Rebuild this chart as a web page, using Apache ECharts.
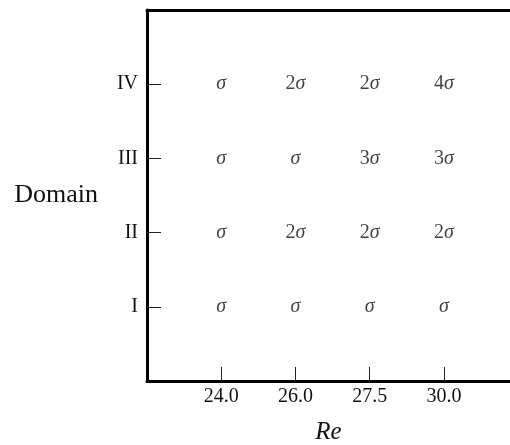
<!DOCTYPE html>
<html><head><meta charset="utf-8">
<script src="https://cdn.jsdelivr.net/npm/echarts@6/dist/echarts.min.js"></script>
<style>html,body{margin:0;padding:0;background:#fff}#c{width:510px;height:445px}</style>
</head><body><div id="c"></div>
<script>
const reLabels = ['24.0', '26.0', '27.5', '30.0'];
const domainLabels = ['I', 'II', 'III', 'IV'];
// multiples of sigma, per domain, for each Re
const domainI = [1, 1, 1, 1];
const domainII = [1, 2, 2, 2];
const domainIII = [1, 1, 3, 3];
const domainIV = [1, 2, 2, 4];
const rows = [domainI, domainII, domainIII, domainIV];

const data = [];
rows.forEach((row, yi) => row.forEach((m, xi) => data.push([xi + 1, yi + 1, m])));

const font = '"Liberation Serif", "DejaVu Serif", serif';
const col = '#111';
const chart = echarts.init(document.getElementById('c'));
chart.setOption({
  animation: false,
  grid: { left: 147, right: 0, top: 10, bottom: 64, containLabel: false, outerBoundsMode: 'none' },
  xAxis: [{
    type: 'value', min: 0, max: 4.89, interval: 1,
    splitLine: { show: false },
    axisLine: { show: true, onZero: false, lineStyle: { color: '#000', width: 3 } },
    axisTick: { show: true, inside: true, length: 14, customValues: [1, 2, 3, 4], lineStyle: { color: '#222', width: 1 } },
    axisLabel: { customValues: [1, 2, 3, 4], formatter: v => reLabels[v - 1] || '', color: col, fontFamily: font, fontSize: 20, margin: 6 },
    name: 'Re', nameLocation: 'middle', nameGap: 39,
    nameTextStyle: { fontFamily: font, fontStyle: 'italic', fontSize: 25, color: col }
  }, {
    type: 'value', position: 'top', min: 0, max: 4.89,
    splitLine: { show: false },
    axisLine: { show: true, onZero: false, lineStyle: { color: '#000', width: 3 } },
    axisTick: { show: false }, axisLabel: { show: false }
  }],
  yAxis: {
    type: 'value', min: 0, max: 5, interval: 1,
    splitLine: { show: false },
    axisLine: { show: true, onZero: false, lineStyle: { color: '#000', width: 3 } },
    axisTick: { show: true, inside: true, length: 14, customValues: [1, 2, 3, 4], lineStyle: { color: '#222', width: 1 } },
    axisLabel: { customValues: [1, 2, 3, 4], formatter: v => domainLabels[v - 1] || '', color: col, fontFamily: font, fontSize: 20, margin: 9 },
    name: 'Domain', nameLocation: 'middle', nameRotate: 0, nameGap: 49,
    nameTextStyle: { fontFamily: font, fontSize: 26, color: col }
  },
  series: [{
    type: 'scatter', xAxisIndex: 0, symbolSize: 0, data: data,
    label: {
      show: true, position: 'inside',
      formatter: p => p.value[2] === 1 ? '{s|σ}' : '{n|' + p.value[2] + '}{s|σ}',
      rich: {
        n: { fontFamily: font, fontSize: 20, color: col },
        s: { fontFamily: font, fontSize: 20, fontStyle: 'italic', color: col }
      }
    }
  }]
});
</script></body></html>
